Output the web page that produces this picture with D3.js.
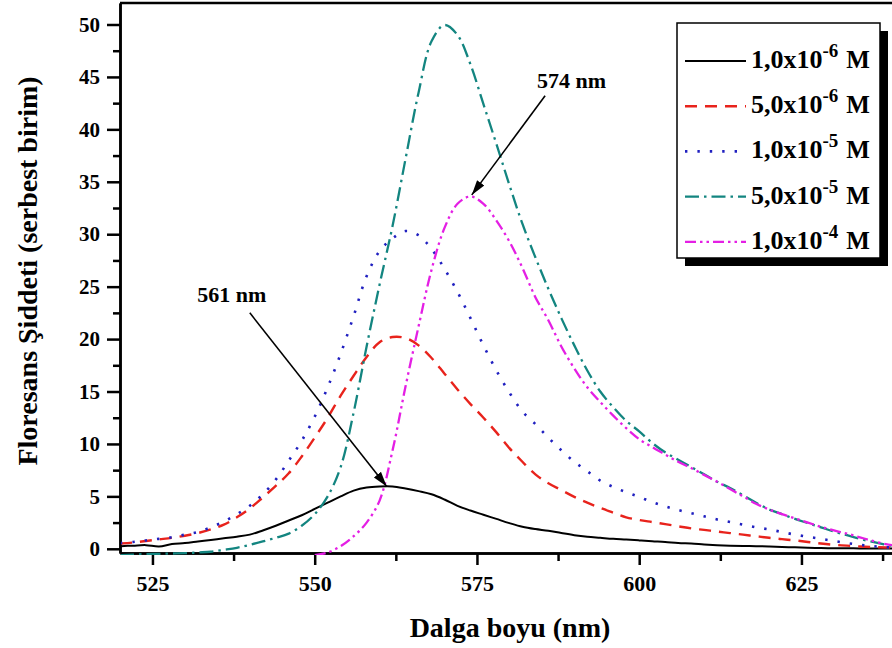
<!DOCTYPE html>
<html><head><meta charset="utf-8">
<script src="https://cdn.jsdelivr.net/npm/d3@7"></script>
<style>
body{margin:0;background:#fff}
svg{display:block}
text{font-family:"Liberation Serif","Times New Roman",serif;font-weight:bold;fill:#000}
</style>
</head><body>
<svg id="chart" width="892" height="648"></svg>
<script>
// ---- data (wavelength grid, nm) ----
const wavelengths = [520,522,524,526,528,530,532,534,536,538,540,542,544,546,548,550,552,554,556,558,560,562,564,566,568,570,572,574,576,578,580,582,584,586,588,590,592,594,596,598,600,602,604,606,608,610,612,614,616,618,620,622,624,626,628,630,632,634,636,638,640];

const conc1e6 = [0.25,0.3,0.35,0.22,0.45,0.55,0.7,0.85,1.0,1.15,1.35,1.75,2.2,2.7,3.2,3.8,4.4,5.0,5.55,5.85,5.95,5.95,5.75,5.5,5.2,4.7,4.1,3.65,3.25,2.85,2.45,2.1,1.88,1.72,1.5,1.3,1.15,1.05,0.95,0.88,0.8,0.72,0.65,0.55,0.5,0.42,0.35,0.3,0.27,0.25,0.22,0.18,0.14,0.1,0.07,0.05,0.05,0.04,0.04,0.03,0.03];

const conc5e6 = [0.5,0.6,0.75,0.9,1.05,1.25,1.5,1.85,2.3,3.0,3.85,4.9,6.0,7.2,8.8,10.6,12.5,14.6,16.5,18.3,19.7,20.2,20.1,19.4,18.2,16.7,15.2,13.8,12.5,11.1,9.6,8.3,7.1,6.25,5.6,4.95,4.4,3.9,3.45,3.0,2.75,2.55,2.35,2.15,1.95,1.8,1.65,1.5,1.35,1.2,1.05,0.92,0.8,0.65,0.5,0.38,0.3,0.22,0.16,0.12,0.1];

const conc1e5 = [0.55,0.65,0.8,0.95,1.1,1.35,1.6,2.05,2.6,3.3,4.1,5.2,6.6,8.4,10.3,12.6,15.4,18.6,22.2,26.0,28.4,29.6,30.3,29.9,28.6,26.7,24.5,22.0,19.4,17.0,14.9,13.1,11.9,10.6,9.4,8.3,7.4,6.5,5.9,5.4,4.95,4.45,4.05,3.7,3.4,3.1,2.8,2.55,2.3,2.05,1.85,1.6,1.35,1.15,0.95,0.75,0.55,0.38,0.25,0.15,0.1];

const conc5e5 = [-0.6,-0.55,-0.5,-0.48,-0.45,-0.42,-0.35,-0.28,-0.1,0.1,0.38,0.7,1.05,1.45,2.2,3.3,5.0,7.8,13.0,19.3,25.2,30.8,37.2,43.5,48.4,49.95,49.0,46.2,42.4,38.6,34.7,31.0,27.8,24.8,22.0,19.4,17.0,15.0,13.5,12.2,11.2,10.1,9.2,8.5,7.8,7.1,6.4,5.8,5.1,4.4,3.75,3.3,2.85,2.45,2.05,1.65,1.3,0.95,0.65,0.4,0.2];

const conc1e4 = [null,null,null,null,null,null,null,null,null,null,null,null,null,null,null,-0.6,-0.35,0.25,1.2,2.5,4.6,9.4,15.5,21.2,26.6,30.6,32.9,33.6,32.9,31.3,29.3,26.8,24.0,21.8,19.3,17.2,15.4,14.0,12.7,11.5,10.45,9.7,9.0,8.3,7.7,7.05,6.4,5.7,5.0,4.3,3.75,3.3,2.9,2.5,2.1,1.75,1.45,1.1,0.75,0.45,0.25];

const legendMantissa = ["1,0x10","5,0x10","1,0x10","5,0x10","1,0x10"];
const legendExponent = ["-6","-6","-5","-5","-4"];
const legendUnit = "M";

const xMajorTicks = [525,550,575,600,625];
const xMinorTicks = [537.5,562.5,587.5,612.5,637.5];
const yMajorTicks = [0,5,10,15,20,25,30,35,40,45,50];
const yMinorTicks = [2.5,7.5,12.5,17.5,22.5,27.5,32.5,37.5,42.5,47.5];

const xTitle = "Dalga boyu (nm)";
const yTitle = "Floresans Şiddeti (serbest birim)";

// annotations: label position, arrow tail and tip in data units
const annotLabels = ["561 nm","574 nm"];
const annotText = [[531.9,23.55],[584.25,43.96]];
const annotTail = [[540.0,22.5],[585.5,43.2]];
const annotTip = [[561.1,5.95],[574.2,33.75]];

// ---- styles ----
const seriesStyles = [
  {color:"#000000", dash:null, width:2},
  {color:"#e8231c", dash:"12,8", width:2.4},
  {color:"#2020c0", dash:"2.4,10", width:2.6},
  {color:"#138580", dash:"14,5,2.5,5", width:2.3},
  {color:"#e41fe4", dash:"11,4,2.5,4,2.5,4", width:2.3}
];
const seriesValues = [conc1e6, conc5e6, conc1e5, conc5e5, conc1e4];

const svg = d3.select("#chart");
const x = d3.scaleLinear().domain([520,640]).range([120,898.8]);
const y = d3.scaleLinear().domain([-0.4,52.05]).range([553,3]);

const defs = svg.append("defs");
defs.append("clipPath").attr("id","plotclip")
  .append("rect").attr("x",121).attr("y",3).attr("width",778).attr("height",552);
defs.append("marker").attr("id","arrow").attr("markerUnits","userSpaceOnUse")
  .attr("markerWidth",16).attr("markerHeight",12).attr("viewBox","0 -6 16 12")
  .attr("refX",15).attr("refY",0).attr("orient","auto")
  .append("path").attr("d","M0,-4.5L15,0L0,4.5Z").attr("fill","#000");

// axes
function styleAxis(g){
  g.selectAll("path.domain").attr("stroke","#000").attr("stroke-width",2.5);
  g.selectAll(".tick line").attr("stroke","#000").attr("stroke-width",2.5);
}
const gxMinor = svg.append("g").attr("transform","translate(0,553)")
  .call(d3.axisBottom(x).tickValues(xMinorTicks).tickSize(8).tickSizeOuter(0).tickFormat(""));
styleAxis(gxMinor);
const gx = svg.append("g").attr("transform","translate(0,553)")
  .call(d3.axisBottom(x).tickValues(xMajorTicks).tickSize(12).tickSizeOuter(0).tickPadding(10).tickFormat(d3.format("d")));
styleAxis(gx);
gx.selectAll("text").attr("font-size",22).attr("font-family","Liberation Serif").attr("font-weight","bold");

const gyMinor = svg.append("g").attr("transform","translate(120,0)")
  .call(d3.axisLeft(y).tickValues(yMinorTicks).tickSize(7).tickSizeOuter(0).tickFormat(""));
styleAxis(gyMinor);
const gy = svg.append("g").attr("transform","translate(120,0)")
  .call(d3.axisLeft(y).tickValues(yMajorTicks).tickSize(13).tickSizeOuter(0).tickPadding(7).tickFormat(d3.format("d")));
styleAxis(gy);
gy.selectAll("text").attr("font-size",21).attr("font-family","Liberation Serif").attr("font-weight","bold");

// top & right frame
svg.append("line").attr("x1",x(520)).attr("x2",x(640)).attr("y1",y(52.05)).attr("y2",y(52.05))
  .attr("stroke","#000").attr("stroke-width",2.5);
svg.append("line").attr("x1",x(640)).attr("x2",x(640)).attr("y1",y(52.05)).attr("y2",y(-0.4))
  .attr("stroke","#000").attr("stroke-width",2.5);

// curves (drawn over the axes)
const plot = svg.append("g").attr("clip-path","url(#plotclip)");
const line = d3.line()
  .defined(d => d[1] !== null)
  .x(d => x(d[0])).y(d => y(d[1]))
  .curve(d3.curveCatmullRom.alpha(0.5));

seriesValues.forEach((vals,i) => {
  const st = seriesStyles[i];
  const pts = wavelengths.map((w,j) => [w, vals[j]]);
  plot.append("path").datum(pts)
    .attr("d", line)
    .attr("fill","none")
    .attr("stroke", st.color)
    .attr("stroke-width", st.width)
    .attr("stroke-dasharray", st.dash)
    .attr("stroke-linejoin","round");
});

// titles
svg.append("text").attr("x",510).attr("y",637).attr("text-anchor","middle")
  .attr("font-size",28).text(xTitle);
svg.append("text").attr("transform","translate(37,271) rotate(-90)").attr("text-anchor","middle")
  .attr("font-size",28).text(yTitle);

// annotations
annotLabels.forEach((lab,i) => {
  svg.append("text").attr("x",x(annotText[i][0])).attr("y",y(annotText[i][1]))
    .attr("font-size",22).text(lab);
  svg.append("line")
    .attr("x1",x(annotTail[i][0])).attr("y1",y(annotTail[i][1]))
    .attr("x2",x(annotTip[i][0])).attr("y2",y(annotTip[i][1]))
    .attr("stroke","#000").attr("stroke-width",1.6).attr("marker-end","url(#arrow)");
});

// legend
const lg = svg.append("g");
const lx = 677, ly = 23, lw = 203, lh = 235;
lg.append("rect").attr("x",lx+8).attr("y",ly+8).attr("width",lw).attr("height",lh).attr("fill","#000");
lg.append("rect").attr("x",lx).attr("y",ly).attr("width",lw).attr("height",lh)
  .attr("fill","#fff").attr("stroke","#000").attr("stroke-width",1.5);
legendMantissa.forEach((m,i) => {
  const st = seriesStyles[i];
  const base = 68 + i*45.2;
  lg.append("line").attr("x1",685).attr("x2",746).attr("y1",base-7).attr("y2",base-7)
    .attr("stroke",st.color).attr("stroke-width",st.width).attr("stroke-dasharray",st.dash);
  const t = lg.append("text").attr("x",751).attr("y",base).attr("font-size",26);
  t.append("tspan").text(m);
  t.append("tspan").attr("font-size",19).attr("dy",-11).text(legendExponent[i]);
  t.append("tspan").attr("dy",11).attr("dx",8).attr("font-size",25).text(legendUnit);
});
</script>
</body></html>
